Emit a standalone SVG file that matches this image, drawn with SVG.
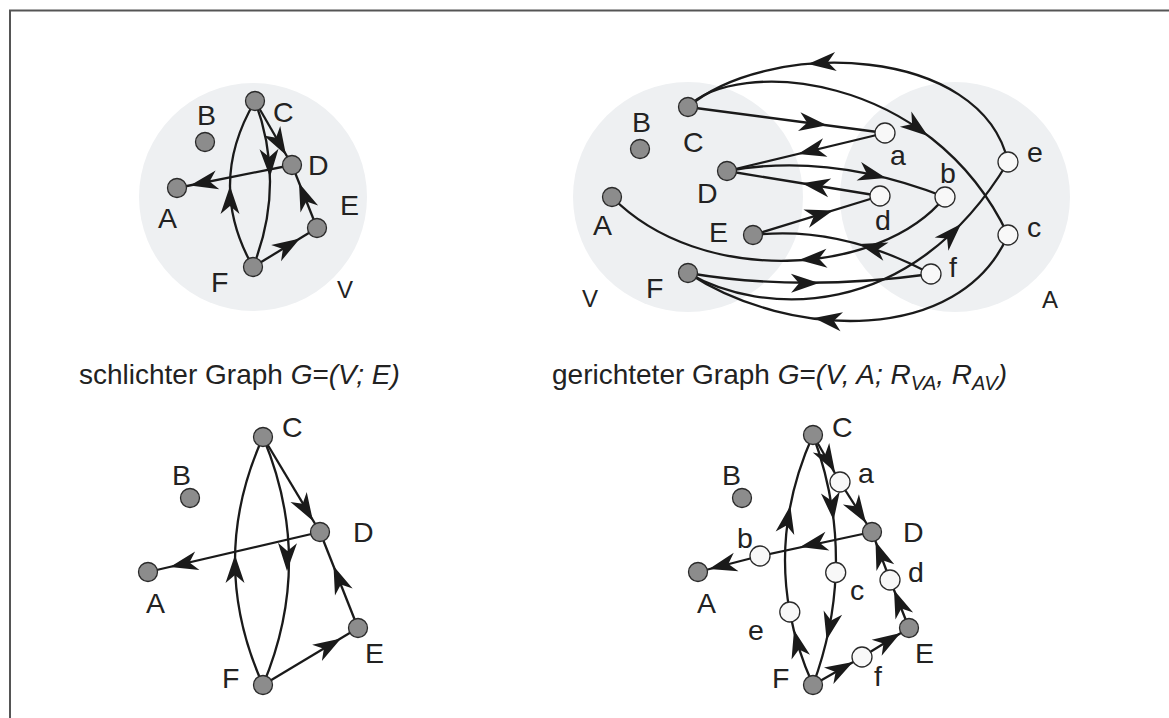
<svg xmlns="http://www.w3.org/2000/svg" xmlns:xlink="http://www.w3.org/1999/xlink" width="1169" height="718" viewBox="0 0 1169 718">
<style>
.bg{fill:#eef0f2;stroke:none}
.e{fill:none;stroke:#1a1a1a;stroke-width:2.3}
.v{fill:#8c8c8c;stroke:#2a2a2a;stroke-width:1.3}
.w{fill:#f8f8f8;stroke:#2a2a2a;stroke-width:1.3}
.ah{fill:#1a1a1a}
text{font-family:"Liberation Sans",Arial,sans-serif;fill:#222}
.l{font-size:28.5px}
.s{font-size:24px}
.t{font-size:28px}
.i{font-style:italic}
</style>
<defs>
<path id="ah" class="ah" d="M0,0 L-28,-9.5 L-20,0 L-28,9.5 Z"/>
</defs>
<rect width="1169" height="718" fill="#ffffff"/>
<path d="M10,718 L10,10.5 L1169,10.5" fill="none" stroke="#555" stroke-width="2"/>

<!-- background sets -->
<circle class="bg" cx="253" cy="197" r="114"/>
<circle class="bg" cx="688" cy="197" r="115"/>
<circle class="bg" cx="955" cy="197" r="115"/>

<g id="connectors">
<!-- top-left -->
<path class="e" d="M255,101 L292,165"/>
<path class="e" d="M292,165 L177,188"/>
<path class="e" d="M255,101 Q286,184 253,267"/>
<path class="e" d="M253,267 Q206,184 255,101"/>
<path class="e" d="M317,228 L292,165"/>
<path class="e" d="M253,267 L317,228"/>
<use xlink:href="#ah" transform="translate(286,155) rotate(60)"/>
<use xlink:href="#ah" transform="translate(190,185.4) rotate(168.7)"/>
<use xlink:href="#ah" transform="translate(270,177) rotate(88)"/>
<use xlink:href="#ah" transform="translate(230,186) rotate(-90)"/>
<use xlink:href="#ah" transform="translate(299,183) rotate(-111.6)"/>
<use xlink:href="#ah" transform="translate(300,238.5) rotate(-31.4)"/>

<!-- top-right -->
<path class="e" d="M688,107 L885,133"/>
<path class="e" d="M885,133 L727,171"/>
<path class="e" d="M727,171 Q830,152 945,197"/>
<path class="e" d="M880,196 L727,171"/>
<path class="e" d="M753,235 L880,196"/>
<path class="e" d="M688,107 C735,58 930,70 1008,235"/>
<path class="e" d="M1008,162 C982,45 770,38 688,107"/>
<path class="e" d="M945,197 C880,277 700,287 612,197"/>
<path class="e" d="M931,274 Q840,225 753,235"/>
<path class="e" d="M688,273 Q800,292 931,274"/>
<path class="e" d="M688,273 C760,315 910,325 1008,162"/>
<path class="e" d="M1008,235 C960,345 790,340 688,273"/>
<use xlink:href="#ah" transform="translate(827,125.3) rotate(7.5)"/>
<use xlink:href="#ah" transform="translate(798,154) rotate(166.5)"/>
<use xlink:href="#ah" transform="translate(886,178) rotate(14)"/>
<use xlink:href="#ah" transform="translate(802,183.3) rotate(189.3)"/>
<use xlink:href="#ah" transform="translate(833,210.4) rotate(-17.1)"/>
<use xlink:href="#ah" transform="translate(928,136) rotate(37)"/>
<use xlink:href="#ah" transform="translate(808,64) rotate(175)"/>
<use xlink:href="#ah" transform="translate(799,260) rotate(176.6)"/>
<use xlink:href="#ah" transform="translate(859,244) rotate(-164)"/>
<use xlink:href="#ah" transform="translate(819,283) rotate(-0.6)"/>
<use xlink:href="#ah" transform="translate(961,224) rotate(-46)"/>
<use xlink:href="#ah" transform="translate(814,318) rotate(187.7)"/>

<!-- bottom-left -->
<path class="e" d="M263,437 L320,532"/>
<path class="e" d="M320,532 L148,572"/>
<path class="e" d="M263,437 Q315,561 263,685"/>
<path class="e" d="M263,685 Q207,561 263,437"/>
<path class="e" d="M358,628 L320,532"/>
<path class="e" d="M263,685 L358,628"/>
<use xlink:href="#ah" transform="translate(313,521) rotate(59)"/>
<use xlink:href="#ah" transform="translate(170,567) rotate(166.9)"/>
<use xlink:href="#ah" transform="translate(287,571) rotate(91)"/>
<use xlink:href="#ah" transform="translate(235,555) rotate(-90)"/>
<use xlink:href="#ah" transform="translate(333.5,566) rotate(-111.6)"/>
<use xlink:href="#ah" transform="translate(341,638.5) rotate(-31)"/>

<!-- bottom-right -->
<path class="e" d="M813,435 L840,482"/>
<path class="e" d="M840,482 L872,532"/>
<path class="e" d="M813,435 Q838.3,503.75 835.7,572.5"/>
<path class="e" d="M835.7,572.5 Q833.7,628.75 813,685"/>
<path class="e" d="M813,685 Q796.6,648.5 789.8,612"/>
<path class="e" d="M789.8,612 Q773.4,523.5 813,435"/>
<path class="e" d="M872,532 L760,556"/>
<path class="e" d="M760,556 L698,572"/>
<path class="e" d="M813,685 L862,657"/>
<path class="e" d="M862,657 L909,628"/>
<path class="e" d="M909,628 L890,580"/>
<path class="e" d="M890,580 L872,532"/>
<use xlink:href="#ah" transform="translate(835,472) rotate(60)"/>
<use xlink:href="#ah" transform="translate(866,523) rotate(57.4)"/>
<use xlink:href="#ah" transform="translate(833.6,520.3) rotate(83.4)"/>
<use xlink:href="#ah" transform="translate(826.6,640) rotate(103)"/>
<use xlink:href="#ah" transform="translate(794,630) rotate(-104)"/>
<use xlink:href="#ah" transform="translate(790.3,505.8) rotate(-79)"/>
<use xlink:href="#ah" transform="translate(800,547) rotate(167.9)"/>
<use xlink:href="#ah" transform="translate(709,569) rotate(165.5)"/>
<use xlink:href="#ah" transform="translate(853,662) rotate(-29.7)"/>
<use xlink:href="#ah" transform="translate(900.5,633) rotate(-31.7)"/>
<use xlink:href="#ah" transform="translate(894,590) rotate(-111.6)"/>
<use xlink:href="#ah" transform="translate(875.5,541.5) rotate(-110.6)"/>
</g>

<!-- top-left nodes -->
<g id="tl-B"><circle class="v" cx="205" cy="142" r="9.5"/><text class="l" x="197" y="125">B</text></g>
<g id="tl-C"><circle class="v" cx="255" cy="101" r="9.5"/><text class="l" x="273" y="122">C</text></g>
<g id="tl-D"><circle class="v" cx="292" cy="165" r="9.5"/><text class="l" x="308" y="175">D</text></g>
<g id="tl-A"><circle class="v" cx="177" cy="188" r="9.5"/><text class="l" x="158" y="228">A</text></g>
<g id="tl-E"><circle class="v" cx="317" cy="228" r="9.5"/><text class="l" x="340" y="215">E</text></g>
<g id="tl-F"><circle class="v" cx="253" cy="267" r="9.5"/><text class="l" x="211" y="292">F</text></g>
<g id="tl-set"><text class="s" x="337" y="298">V</text></g>

<!-- top-right nodes -->
<g id="tr-B"><circle class="v" cx="640" cy="149" r="9.5"/><text class="l" x="632" y="132">B</text></g>
<g id="tr-C"><circle class="v" cx="688" cy="107" r="9.5"/><text class="l" x="683" y="152">C</text></g>
<g id="tr-D"><circle class="v" cx="727" cy="171" r="9.5"/><text class="l" x="697" y="203">D</text></g>
<g id="tr-A"><circle class="v" cx="612" cy="197" r="9.5"/><text class="l" x="593" y="235">A</text></g>
<g id="tr-E"><circle class="v" cx="753" cy="235" r="9.5"/><text class="l" x="709" y="242">E</text></g>
<g id="tr-F"><circle class="v" cx="688" cy="273" r="9.5"/><text class="l" x="646" y="298">F</text></g>
<g id="tr-a"><circle class="w" cx="885" cy="133" r="10"/><text class="l" x="890" y="165">a</text></g>
<g id="tr-b"><circle class="w" cx="945" cy="197" r="10"/><text class="l" x="940" y="183">b</text></g>
<g id="tr-d"><circle class="w" cx="880" cy="196" r="10"/><text class="l" x="875" y="230">d</text></g>
<g id="tr-e"><circle class="w" cx="1008" cy="162" r="10"/><text class="l" x="1027" y="162">e</text></g>
<g id="tr-c"><circle class="w" cx="1008" cy="235" r="10"/><text class="l" x="1027" y="237">c</text></g>
<g id="tr-f"><circle class="w" cx="931" cy="274" r="10"/><text class="l" x="949" y="277">f</text></g>
<g id="tr-setV"><text class="s" x="582" y="307">V</text></g>
<g id="tr-setA"><text class="s" x="1042" y="308">A</text></g>

<!-- bottom-left nodes -->
<g id="bl-C"><circle class="v" cx="263" cy="437" r="9.5"/><text class="l" x="282" y="437">C</text></g>
<g id="bl-B"><circle class="v" cx="190" cy="498" r="9.5"/><text class="l" x="172" y="485">B</text></g>
<g id="bl-D"><circle class="v" cx="320" cy="532" r="9.5"/><text class="l" x="353" y="542">D</text></g>
<g id="bl-A"><circle class="v" cx="148" cy="572" r="9.5"/><text class="l" x="146" y="613">A</text></g>
<g id="bl-E"><circle class="v" cx="358" cy="628" r="9.5"/><text class="l" x="365" y="663">E</text></g>
<g id="bl-F"><circle class="v" cx="263" cy="685" r="9.5"/><text class="l" x="222" y="688">F</text></g>

<!-- bottom-right nodes -->
<g id="br-C"><circle class="v" cx="813" cy="435" r="9.5"/><text class="l" x="832" y="437">C</text></g>
<g id="br-B"><circle class="v" cx="742" cy="498" r="9.5"/><text class="l" x="722" y="485">B</text></g>
<g id="br-D"><circle class="v" cx="872" cy="532" r="9.5"/><text class="l" x="903" y="542">D</text></g>
<g id="br-A"><circle class="v" cx="698" cy="572" r="9.5"/><text class="l" x="697" y="613">A</text></g>
<g id="br-E"><circle class="v" cx="909" cy="628" r="9.5"/><text class="l" x="915" y="663">E</text></g>
<g id="br-F"><circle class="v" cx="813" cy="685" r="9.5"/><text class="l" x="772" y="688">F</text></g>
<g id="br-a"><circle class="w" cx="840" cy="482" r="10"/><text class="l" x="858" y="483">a</text></g>
<g id="br-b"><circle class="w" cx="760" cy="556" r="10"/><text class="l" x="737" y="548">b</text></g>
<g id="br-c"><circle class="w" cx="835.7" cy="572.5" r="10"/><text class="l" x="850" y="600">c</text></g>
<g id="br-d"><circle class="w" cx="890" cy="580" r="10"/><text class="l" x="908" y="582">d</text></g>
<g id="br-e"><circle class="w" cx="789.8" cy="612" r="10"/><text class="l" x="748" y="640">e</text></g>
<g id="br-f"><circle class="w" cx="862" cy="657" r="10"/><text class="l" x="874" y="686">f</text></g>

<!-- titles -->
<text class="t" x="79" y="384">schlichter Graph <tspan class="i">G</tspan>=<tspan class="i">(V; E)</tspan></text>
<text class="t" x="552" y="384">gerichteter Graph <tspan class="i">G</tspan>=<tspan class="i">(V, A; R</tspan><tspan class="i" font-size="20" dy="6">VA</tspan><tspan class="i" dy="-6">, R</tspan><tspan class="i" font-size="20" dy="6">AV</tspan><tspan class="i" dy="-6">)</tspan></text>
</svg>
